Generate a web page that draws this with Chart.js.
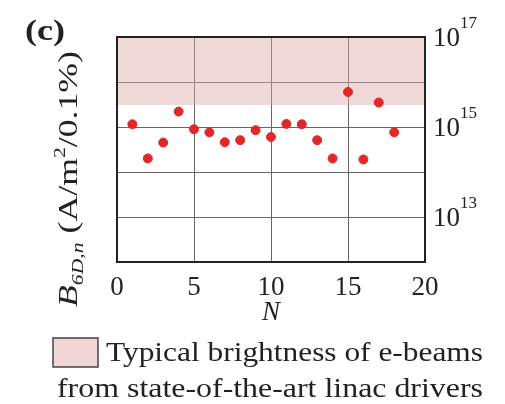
<!DOCTYPE html>
<html><head><meta charset="utf-8">
<script src="https://cdn.jsdelivr.net/npm/chart.js@4/dist/chart.umd.min.js"></script>
<style>html,body{margin:0;padding:0;background:#fff;}#wrap{width:505px;height:404px;}</style>
</head><body><div id="wrap"><canvas id="c" width="505" height="404"></canvas></div>
<script>
const nValues = [1,2,3,4,5,6,7,8,9,10,11,12,13,14,15,16,17,18];
const brightness = [1.15e15,2.0e14,4.5e14,2.2e15,8.9e14,7.6e14,4.6e14,5.1e14,8.5e14,6.0e14,1.17e15,1.15e15,5.1e14,2.0e14,6.0e15,1.9e14,3.5e15,7.6e14];
const typicalBand = [3.1e15, 1e17];
const yTickExponents = [17, 15, 13];
const xTicks = [0,5,10,15,20];
const legendLines = ['Typical brightness of e-beams','from state-of-the-art linac drivers'];
const SERIF = '"Liberation Serif","DejaVu Serif",serif';

function fitText(ctx, text, x, y, targetW){
  const w = ctx.measureText(text).width;
  ctx.save(); ctx.translate(x, y); ctx.scale(targetW / w, 1);
  ctx.textAlign = 'left'; ctx.fillText(text, 0, 0); ctx.restore();
}

const textPlugin = {
  id:'texts',
  afterDraw(chart){
    const ctx = chart.ctx, ca = chart.chartArea, y = chart.scales.y;
    ctx.save();
    // frame
    ctx.strokeStyle = '#222'; ctx.lineWidth = 2;
    ctx.strokeRect(ca.left, ca.top, ca.right-ca.left, ca.bottom-ca.top);
    ctx.fillStyle = '#222';
    // right tick labels
    ctx.textBaseline = 'middle'; ctx.textAlign = 'left';
    yTickExponents.forEach(e=>{
      const py = y.getPixelForValue(Math.pow(10,e));
      ctx.font = '27px '+SERIF;
      ctx.fillText('10', ca.right+8, py+2);
      const w = ctx.measureText('10').width;
      ctx.font = '17px '+SERIF;
      ctx.fillText(String(e), ca.right+8+w, py-13);
    });
    // (c)
    ctx.font = 'bold 29px '+SERIF;
    ctx.textBaseline = 'alphabetic';
    fitText(ctx, '(c)', 25, 40, 40);
    // y title
    ctx.save();
    ctx.translate(77, 179);
    ctx.rotate(-Math.PI/2);
    const parts = [
      {t:'B', f:'italic 28px '+SERIF, dy:0},
      {t:'6D,n', f:'italic 17px '+SERIF, dy:6},
      {t:' (A/m', f:'28px '+SERIF, dy:0},
      {t:'2', f:'17px '+SERIF, dy:-12},
      {t:'/0.1%)', f:'28px '+SERIF, dy:0}
    ];
    let tw = 0;
    parts.forEach(p=>{ctx.font=p.f; p.w=ctx.measureText(p.t).width; tw+=p.w;});
    const sx = 256 / tw;
    ctx.scale(sx, 1);
    let x0 = -tw/2;
    ctx.textAlign='left';
    parts.forEach(p=>{ctx.font=p.f; ctx.fillText(p.t, x0, p.dy); x0+=p.w;});
    ctx.restore();
    // x title
    ctx.font = 'italic 27px '+SERIF; ctx.textAlign='center'; ctx.textBaseline='middle';
    ctx.fillText('N', (ca.left+ca.right)/2, 313);
    // legend
    ctx.fillStyle = '#f2d5d5'; ctx.fillRect(53,338,45,29);
    ctx.strokeStyle = '#444'; ctx.lineWidth = 1.5; ctx.strokeRect(53,338,45,29);
    ctx.fillStyle = '#222'; ctx.font = '27px '+SERIF; ctx.textBaseline='alphabetic';
    fitText(ctx, legendLines[0], 106, 361, 377);
    fitText(ctx, legendLines[1], 57, 397, 426);
    ctx.restore();
  }
};

new Chart(document.getElementById('c'), {
  type:'scatter',
  data:{datasets:[
    {label:'Measured', data:nValues.map((n,i)=>({x:n,y:brightness[i]})), backgroundColor:'#e02828', borderColor:'#e02828', pointRadius:4.5, pointHoverRadius:4.5, order:1},
    {label:'Typical', type:'line', data:[{x:0,y:typicalBand[0]},{x:20,y:typicalBand[0]}], borderWidth:0, borderColor:'rgba(0,0,0,0)', pointRadius:0, fill:'end', backgroundColor:'rgba(225,170,170,0.45)', order:2}
  ]},
  options:{
    responsive:false, animation:false, devicePixelRatio:1,
    layout:{padding:{left:117, top:37, right:0, bottom:0}},
    plugins:{legend:{display:false}, tooltip:{enabled:false}},
    scales:{
      x:{type:'linear', min:0, max:20, position:'bottom',
        afterBuildTicks(s){s.ticks = xTicks.map(v=>({value:v}));},
        afterFit(s){s.height = 404-262;},
        grid:{color:'#666', lineWidth:1, drawTicks:false},
        border:{display:false},
        ticks:{padding:10, color:'#222', font:{family:SERIF, size:27}}
      },
      y:{type:'logarithmic', min:1e12, max:1e17, position:'right',
        afterBuildTicks(s){s.ticks=[12,13,14,15,16,17].map(e=>({value:Math.pow(10,e)}));},
        afterFit(s){s.width = 505-425;},
        grid:{color:'#666', lineWidth:1, drawTicks:false},
        border:{display:false},
        ticks:{display:false}
      }
    }
  },
  plugins:[textPlugin]
});
</script></body></html>
